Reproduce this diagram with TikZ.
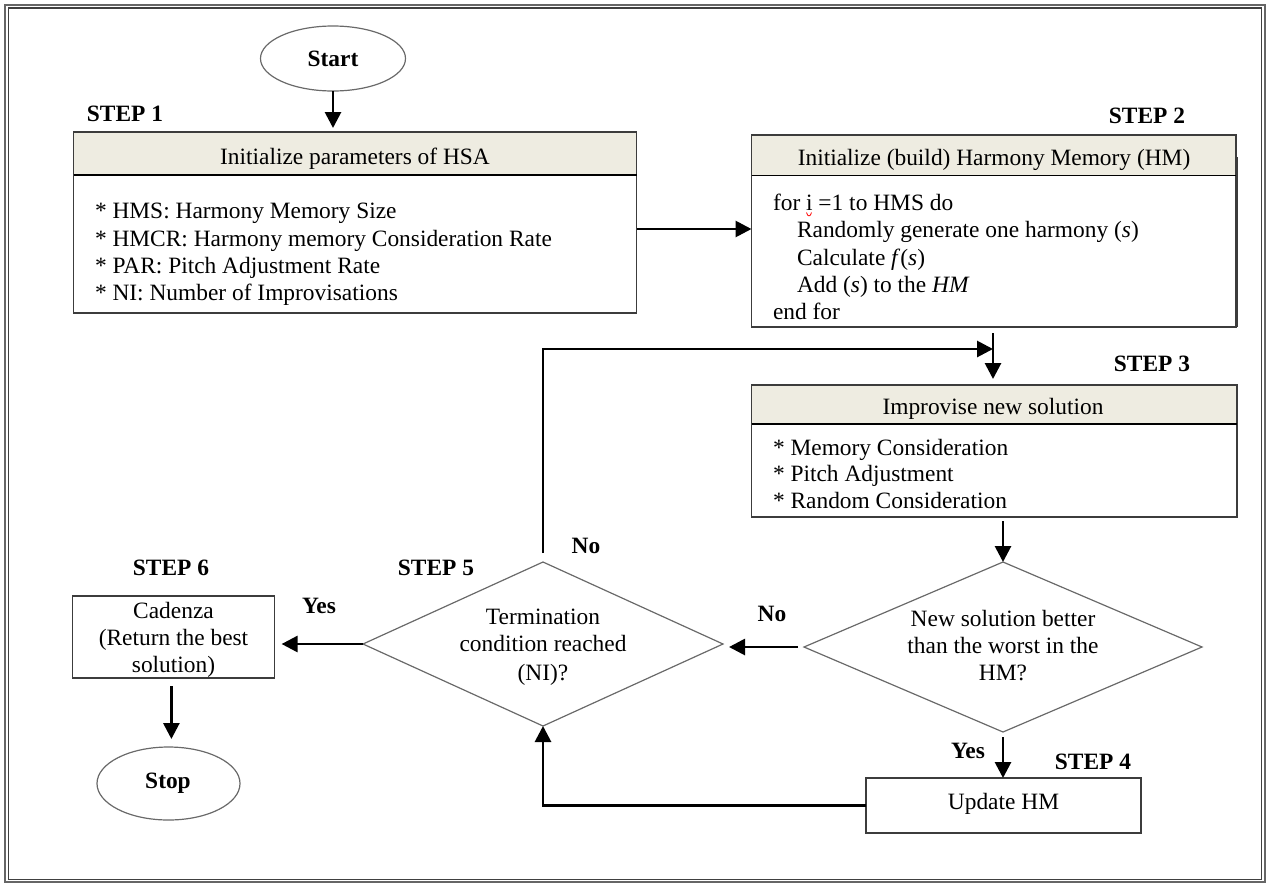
\documentclass[tikz,border=0pt]{standalone}
\usepackage{fontspec}
\setmainfont{Liberation Serif}
\usetikzlibrary{shapes.geometric,arrows.meta}
\definecolor{hdr}{RGB}{238,236,225}
\definecolor{bord}{RGB}{60,60,60}
\definecolor{dgray}{RGB}{105,105,105}
\begin{document}
\begin{tikzpicture}[x=1pt,y=-1pt,
  every node/.style={font=\fontsize{23.4}{27}\selectfont, inner sep=0pt, outer sep=0pt},
  lbl/.style={font=\fontsize{23.4}{27}\selectfont\bfseries, anchor=base},
  txt/.style={anchor=base west},
  ctr/.style={anchor=base},
  boxn/.style={draw=bord, line width=1.2pt, rectangle},
  hdrn/.style={draw=bord, line width=1.2pt, rectangle, fill=hdr},
  hline/.style={line width=1.4pt, black},
  dia/.style={draw=dgray, line width=1.2pt, diamond},
  ell/.style={draw=dgray, line width=1.2pt, ellipse},
  arr/.style={line width=2.8pt, black, -{Triangle[length=16pt,width=16pt]}}]
\useasboundingbox (0,0) rectangle (1266,884);
% frame
\draw[line width=2pt, black!60] (5,4.5) rectangle (1264.5,882);
\draw[line width=1.1pt, black!75] (8.5,8) rectangle (1261.5,879.5);

% Start
\node[ell, minimum width=145pt, minimum height=65pt] (start) at (333,58.5) {};
\node[lbl] (startt) at (333,66) {Start};

% STEP 1
\node[lbl] (s1) at (125,121) {STEP 1};
\node[boxn, minimum width=563pt, minimum height=181pt] (box1) at (355,222.5) {};
\node[hdrn, minimum width=563pt, minimum height=43pt] (box1h) at (355,153.5) {};
\draw[hline] (box1h.south west) -- (box1h.south east);
\node[ctr] (box1t) at (355,164) {Initialize parameters of HSA};
\node[txt] (b1l1) at (95,218) {* HMS: Harmony Memory Size};
\node[txt] (b1l2) at (95,246) {* HMCR: Harmony memory Consideration Rate};
\node[txt] (b1l3) at (95,273) {* PAR: Pitch Adjustment Rate};
\node[txt] (b1l4) at (95,300) {* NI: Number of Improvisations};

% STEP 2
\node[lbl] (s2) at (1147,123) {STEP 2};
\node[boxn, minimum width=484.5pt, minimum height=192pt] (box2) at (993.75,231) {};
\node[hdrn, minimum width=484.5pt, minimum height=40.5pt] (box2h) at (993.75,155.25) {};
\draw[hline] (box2h.south west) -- (box2h.south east);
\draw[line width=1.6pt, bord] (1237.6,157) -- (1237.6,327);
\node[ctr] (box2t) at (994,165) {Initialize (build) Harmony Memory (HM)};
\node[txt] (b2l1) at (773,210) {for i =1 to HMS do};
\draw[red, line width=0.8pt] (806.5,212.5) .. controls (807.5,217) and (810.5,217) .. (811.5,212.5);
\node[txt] (b2l2) at (797,237) {Randomly generate one harmony (\textit{s})};
\node[txt] (b2l3) at (797,265) {Calculate \textit{f}(\textit{s})};
\node[txt] (b2l4) at (797,292) {Add (\textit{s}) to the \textit{HM}};
\node[txt] (b2l5) at (773,319) {end for};

% STEP 3
\coordinate (j) at (993,349);
\node[lbl] (s3) at (1152,371) {STEP 3};
\node[boxn, minimum width=485.5pt, minimum height=132pt] (box3) at (994.25,451) {};
\node[hdrn, minimum width=485.5pt, minimum height=39pt] (box3h) at (994.25,404.5) {};
\draw[hline] (box3h.south west) -- (box3h.south east);
\node[ctr] (box3t) at (993,414) {Improvise new solution};
\node[txt] (b3l1) at (773,455) {* Memory Consideration};
\node[txt] (b3l2) at (773,481) {* Pitch Adjustment};
\begin{scope}
\clip (751,424) rectangle (1237,509);
\node[txt] (b3l3) at (773,508) {* Random Consideration};
\end{scope}

% Decision 4
\node[dia, minimum width=398pt, minimum height=170pt] (d4) at (1003,647) {};
\node[ctr] (d4a) at (1003,626) {New solution better};
\node[ctr] (d4b) at (1003,653) {than the worst in the};
\node[ctr] (d4c) at (1003,680) {HM?};

% STEP 4
\node[lbl] (s4) at (1093,769) {STEP 4};
\node[boxn, minimum width=275pt, minimum height=55pt] (upd) at (1003.5,805.5) {};
\node[ctr] (updt) at (1003.5,809) {Update HM};

% Decision 5
\node[lbl] (s5) at (436,575) {STEP 5};
\node[dia, minimum width=360pt, minimum height=164pt] (d5) at (543,644) {};
\node[ctr] (d5a) at (543,624) {Termination};
\node[ctr] (d5b) at (543,651) {condition reached};
\node[ctr] (d5c) at (543,680) {(NI)?};

% STEP 6
\node[lbl] (s6) at (171,575) {STEP 6};
\node[boxn, minimum width=202pt, minimum height=82pt] (cad) at (173.6,637) {};
\node[ctr] (cada) at (173.5,618) {Cadenza};
\node[ctr] (cadb) at (173.5,645) {(Return the best};
\node[ctr] (cadc) at (173.5,672) {solution)};
\node[ell, minimum width=143pt, minimum height=73pt] (stop) at (168.5,783.5) {};
\node[lbl] (stopt) at (168,788) {Stop};
\coordinate (cs) at (171.4,700);

% labels on connectors
\node[lbl] (yes1) at (319,613) {Yes};
\node[lbl] (no1) at (772,621) {No};
\node[lbl] (yes2) at (968,758) {Yes};
\node[lbl] (no2) at (586,553) {No};

% connectors
\draw[arr, shorten >=4pt] (start.south) -- (start.south |- box1.north);
\draw[arr] ([yshift=-6.5pt]box1.east) -- ([yshift=-6.5pt]box1.east -| box2.west);
\draw[arr, shorten <=6pt, shorten >=6pt] (box2.south -| j) -- (box3.north -| j);
\draw[arr, shorten <=9pt] (d5.north) |- (j);
\draw[arr, shorten <=4pt] (box3.south -| d4.north) -- (d4.north);
\draw[arr, shorten <=5pt] (d4.south) -- (d4.south |- upd.north);
\draw[arr, shorten <=6pt, shorten >=6pt] (d4.west) -- (d4.west -| d5.east);
\draw[arr, shorten >=7pt] (d5.west) -- (d5.west -| cad.east);
\draw[arr, shorten <=8pt, shorten >=8pt] (cad.south -| cs) -- (stop.north -| cs);
\draw[arr] (upd.west) -| (d5.south);
\end{tikzpicture}
\end{document}
